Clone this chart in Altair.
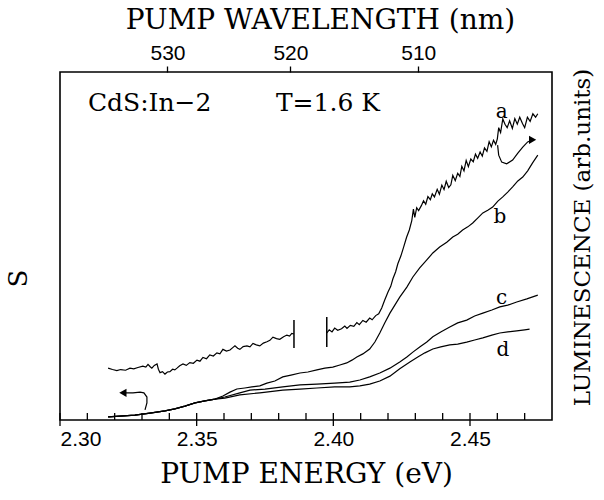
import altair as alt
import pandas as pd

# ---------------- data (energy in eV, signal in arb. units 0-100) ----------------
a1_E = [2.3176, 2.3192, 2.3208, 2.3222, 2.3240, 2.3256, 2.3270, 2.3285, 2.3303, 2.3314,
        2.3322, 2.3330, 2.3336, 2.3345, 2.3355, 2.3360, 2.3366, 2.3375, 2.3384, 2.3393,
        2.3402, 2.3412, 2.3420, 2.3428, 2.3438, 2.3450, 2.3462, 2.3475, 2.3488, 2.3501,
        2.3512, 2.3523, 2.3536, 2.3548, 2.3561, 2.3574, 2.3585, 2.3596, 2.3609, 2.3622,
        2.3632, 2.3640, 2.3650, 2.3658, 2.3670, 2.3684, 2.3695, 2.3706, 2.3718, 2.3731,
        2.3744, 2.3757, 2.3768, 2.3779, 2.3792, 2.3804, 2.3818, 2.3830, 2.3840, 2.3848,
        2.3856]
a1_S = [14.9, 14.5, 14.2, 14.5, 14.3, 14.9, 14.7, 15.1, 15.5, 15.2,
        16.0, 15.3, 14.9, 15.7, 16.1, 14.6, 13.6, 13.9, 13.2, 13.8,
        13.9, 14.6, 14.4, 14.9, 15.6, 16.1, 15.7, 16.5, 16.3, 17.2,
        16.9, 18.0, 17.6, 18.7, 18.4, 19.3, 19.0, 20.3, 19.8, 20.1,
        20.8, 21.3, 20.6, 20.3, 21.1, 21.3, 21.0, 22.0, 21.6, 21.3,
        22.1, 22.5, 22.9, 23.8, 23.4, 23.2, 23.9, 24.4, 24.1, 24.9,
        24.7]

a2_E = [2.3976, 2.3985, 2.3995, 2.4005, 2.4016, 2.4030, 2.4042, 2.4050, 2.4062, 2.4075,
        2.4086, 2.4095, 2.4108, 2.4120, 2.4133, 2.4142, 2.4155, 2.4166, 2.4177, 2.4188,
        2.4200, 2.4210, 2.4218, 2.4228, 2.4236, 2.4247, 2.4258, 2.4268, 2.4278, 2.4287,
        2.4293, 2.4298, 2.4305, 2.4312, 2.4322, 2.4330, 2.4338, 2.4346, 2.4355, 2.4362,
        2.4370, 2.4380, 2.4388, 2.4397, 2.4405, 2.4413, 2.4422, 2.4430, 2.4437, 2.4446,
        2.4455, 2.4463, 2.4470, 2.4478, 2.4486, 2.4494, 2.4503, 2.4512, 2.4520, 2.4528,
        2.4537, 2.4545, 2.4553, 2.4562, 2.4570, 2.4578, 2.4586, 2.4594, 2.4600, 2.4605,
        2.4612, 2.4620, 2.4628, 2.4636, 2.4645, 2.4655, 2.4664, 2.4673, 2.4682, 2.4692,
        2.4700, 2.4710, 2.4720, 2.4730, 2.4740, 2.4748]
a2_S = [25.0, 25.9, 25.3, 26.4, 25.8, 26.2, 27.0, 26.3, 27.2, 26.9,
        28.0, 27.4, 28.6, 28.1, 29.3, 28.8, 30.0, 30.5, 32.2, 34.5,
        36.8, 38.4, 40.6, 42.6, 44.9, 47.1, 49.9, 52.5, 54.6, 57.3,
        60.6, 58.2, 61.0, 60.2, 61.6, 63.0, 62.0, 64.2, 63.3, 65.0,
        64.1, 66.3, 64.9, 67.5, 66.2, 68.6, 66.8, 67.6, 70.3, 68.8,
        70.9, 70.0, 72.9, 71.6, 74.6, 72.8, 75.0, 74.2, 76.4, 75.2,
        77.0, 75.8, 78.2, 77.2, 80.0, 78.5, 80.4, 79.2, 80.8, 84.0,
        82.6, 86.5, 85.0, 84.0, 86.0, 83.8, 86.6, 85.0, 87.0, 85.2,
        84.0, 87.0, 85.8, 88.0, 87.0, 88.0]

base_E = [2.3176, 2.3219, 2.3274, 2.3329, 2.3384, 2.3420, 2.3457, 2.3494, 2.3530, 2.3567]
base_S = [0.9, 1.1, 1.4, 2.0, 2.6, 3.2, 4.0, 4.9, 5.5, 6.0]

b_E = [2.3596, 2.3622, 2.3647, 2.3676, 2.3702, 2.3731, 2.3757, 2.3786, 2.3815, 2.3845,
       2.3878, 2.3907, 2.3940, 2.3969, 2.3998, 2.4024, 2.4049, 2.4068, 2.4086, 2.4108,
       2.4133, 2.4152, 2.4170, 2.4188, 2.4207, 2.4225, 2.4243, 2.4269, 2.4291, 2.4316,
       2.4342, 2.4364, 2.4389, 2.4415, 2.4437, 2.4455, 2.4473, 2.4492, 2.4510, 2.4528,
       2.4547, 2.4565, 2.4583, 2.4602, 2.4620, 2.4638, 2.4656, 2.4675, 2.4693, 2.4711,
       2.4729, 2.4748]
b_S = [6.9, 8.0, 8.9, 9.2, 9.5, 9.8, 10.6, 11.2, 12.4, 12.9,
       13.5, 13.8, 14.4, 14.9, 15.2, 15.8, 16.4, 17.2, 18.1, 19.0,
       20.4, 22.4, 25.0, 27.9, 30.7, 33.0, 35.3, 38.2, 41.1, 43.7,
       46.0, 48.0, 49.7, 51.1, 52.6, 53.4, 54.6, 55.5, 56.6, 58.0,
       59.5, 60.3, 61.2, 62.9, 64.1, 65.5, 67.0, 68.7, 69.8, 71.6,
       73.9, 76.1]

c_E = [2.3603, 2.3658, 2.3695, 2.3750, 2.3815, 2.3878, 2.3940, 2.4005, 2.4060, 2.4097,
       2.4133, 2.4170, 2.4207, 2.4243, 2.4269, 2.4291, 2.4316, 2.4342, 2.4364, 2.4393,
       2.4426, 2.4455, 2.4488, 2.4517, 2.4547, 2.4580, 2.4609, 2.4638, 2.4671, 2.4708,
       2.4748]
c_S = [6.6, 7.8, 8.6, 8.9, 9.5, 10.1, 10.3, 10.6, 10.9, 11.5,
       12.4, 13.5, 14.9, 16.7, 18.1, 19.5, 21.0, 22.4, 23.9, 25.3,
       26.7, 27.9, 28.7, 29.9, 30.7, 31.6, 32.5, 33.0, 33.9, 34.8,
       35.9]

d_E = [2.3603, 2.3658, 2.3731, 2.3815, 2.3878, 2.3940, 2.4005, 2.4060, 2.4097, 2.4133,
       2.4170, 2.4207, 2.4243, 2.4280, 2.4309, 2.4335, 2.4364, 2.4393, 2.4426, 2.4455,
       2.4488, 2.4517, 2.4547, 2.4580, 2.4609, 2.4638, 2.4671, 2.4700, 2.4718]
d_S = [6.3, 7.2, 7.8, 8.6, 8.9, 9.2, 9.5, 9.5, 9.8, 10.3,
       11.2, 12.6, 14.7, 16.7, 18.1, 19.3, 20.4, 21.0, 21.6, 21.8,
       22.4, 23.0, 23.6, 24.4, 25.0, 25.3, 25.6, 25.9, 26.1]

# break markers on curve a
bar_E = [2.3856, 2.3976]
bar_lo = [20.7, 21.0]
bar_hi = [28.7, 29.6]

# curve labels
lab_text = ["a", "b", "c", "d"]
lab_E = [2.4616, 2.4609, 2.4616, 2.4620]
lab_S = [88.5, 58.3, 35.1, 20.1]

# annotation text
note_text = ["CdS:In\u22122", "T=1.6 K"]
note_E = [2.3102, 2.3790]
note_S = [91.0, 91.0]

# axis-assignment arrows
arrR_E = [2.4601, 2.4605, 2.4616, 2.4634, 2.4656, 2.4675, 2.4693, 2.4711, 2.4725]
arrR_S = [79.0, 76.1, 74.1, 73.6, 74.7, 76.7, 78.4, 79.9, 80.4]
arrL_E = [2.3311, 2.3318, 2.3318, 2.3307, 2.3293, 2.3267, 2.3236]
arrL_S = [2.9, 4.9, 6.6, 7.8, 8.0, 7.8, 7.8]
head_E = [2.4729, 2.3230]
head_S = [80.5, 7.8]
head_shape = ["triangle-right", "triangle-left"]

# axes
major_E = [2.30, 2.35, 2.40, 2.45]
minor_E = [2.31, 2.32, 2.33, 2.34, 2.36, 2.37, 2.38, 2.39, 2.41, 2.42, 2.43, 2.44, 2.46, 2.47]
wl_ticks = [530, 520, 510]
HC = 1239.84

# ---------------- tables ----------------
def seg(name, xs, ys):
    return pd.DataFrame({"E": xs, "S": ys, "curve": name, "i": range(len(xs))})

curves = pd.concat([
    seg("a1", a1_E, a1_S),
    seg("a2", a2_E, a2_S),
    seg("b", base_E + b_E, base_S + b_S),
    seg("c", base_E + c_E, base_S + c_S),
    seg("d", base_E + d_E, base_S + d_S),
    seg("arrR", arrR_E, arrR_S),
    seg("arrL", arrL_E, arrL_S),
])
bars = pd.DataFrame({"E": bar_E, "lo": bar_lo, "hi": bar_hi})
labs = pd.DataFrame({"E": lab_E, "S": lab_S, "t": lab_text})
notes = pd.DataFrame({"E": note_E, "S": note_S, "t": note_text})
heads = pd.DataFrame({"E": head_E, "S": head_S, "shape": head_shape})
minors = pd.DataFrame({"E": minor_E})
majors = pd.DataFrame({"E": major_E})
wl = pd.DataFrame({"E": [HC / w for w in wl_ticks]})

xs = alt.Scale(domain=[2.30, 2.48], nice=False, zero=False)
ys = alt.Scale(domain=[0, 100], nice=False, zero=False)
SERIF = "DejaVu Serif"
SANS = "Liberation Sans"

lines = alt.Chart(curves).mark_line(color="black", strokeWidth=1.2).encode(
    x=alt.X("E:Q", scale=xs, axis=alt.Axis(
        orient="bottom", values=major_E, format=".2f", title="PUMP ENERGY (eV)",
        ticks=False, domain=False, grid=False, labelFont=SANS, labelFontSize=21,
        labelColor="black", labelPadding=8, titleFont=SERIF,
        titleFontSize=28, titleFontWeight="normal", titleColor="black", titlePadding=11)),
    y=alt.Y("S:Q", scale=ys, axis=alt.Axis(
        orient="left", title="S", labels=False, ticks=False, domain=False, grid=False,
        titleFont=SERIF, titleFontSize=26, titleFontWeight="normal", titleColor="black",
        titlePadding=29, titleY=206)),
    detail="curve:N",
    order="i:Q",
)

top_axis = alt.Chart(wl).mark_point(opacity=0).encode(
    x=alt.X("E:Q", scale=xs, axis=alt.Axis(
        orient="top", values=[HC / w for w in wl_ticks],
        labelExpr="format(1239.84/datum.value, '.0f')", title="PUMP WAVELENGTH (nm)",
        ticks=True, tickSize=6, tickColor="black", tickWidth=1.3, domain=False, grid=False,
        labelFont=SANS, labelFontSize=21, labelColor="black", labelPadding=3,
        titleFont=SERIF, titleFontSize=28, titleFontWeight="normal", titleColor="black",
        titlePadding=8, titleX=260)),
    y=alt.Y("E:Q", scale=ys, axis=alt.Axis(
        orient="right", title="LUMINESCENCE (arb.units)", labels=False, ticks=False,
        domain=False, grid=False, titleFont=SERIF, titleFontSize=23,
        titleFontWeight="normal", titleColor="black", titleAngle=270, titlePadding=42,
        titleY=165)),
)

bar_rules = alt.Chart(bars).mark_rule(color="black", strokeWidth=1.5).encode(
    x=alt.X("E:Q", scale=xs, axis=None),
    y=alt.Y("lo:Q", scale=ys, axis=None),
    y2="hi:Q",
)

minor_ticks = alt.Chart(minors).mark_rule(color="black", strokeWidth=1.3).encode(
    x=alt.X("E:Q", scale=xs, axis=None),
    y=alt.value(348), y2=alt.value(341),
)
major_ticks = alt.Chart(majors).mark_rule(color="black", strokeWidth=1.3).encode(
    x=alt.X("E:Q", scale=xs, axis=None),
    y=alt.value(354), y2=alt.value(341),
)

labels = alt.Chart(labs).mark_text(font=SERIF, fontSize=20, color="black",
                                   align="center", baseline="middle").encode(
    x=alt.X("E:Q", scale=xs, axis=None),
    y=alt.Y("S:Q", scale=ys, axis=None),
    text="t:N",
)
note = alt.Chart(notes).mark_text(font=SERIF, fontSize=25, color="black",
                                  align="left", baseline="middle").encode(
    x=alt.X("E:Q", scale=xs, axis=None),
    y=alt.Y("S:Q", scale=ys, axis=None),
    text="t:N",
)
arrowheads = alt.Chart(heads).mark_point(filled=True, color="black", size=70, opacity=1).encode(
    x=alt.X("E:Q", scale=xs, axis=None),
    y=alt.Y("S:Q", scale=ys, axis=None),
    shape=alt.Shape("shape:N", scale=None, legend=None),
)

chart = alt.layer(
    lines, top_axis, bar_rules, minor_ticks, major_ticks, labels, note, arrowheads
).resolve_axis(x="independent", y="independent").properties(
    width=492, height=348,
    autosize=alt.AutoSizeParams(type="none"),
    padding={"left": 60, "top": 72, "right": 52, "bottom": 80},
    background="white",
).configure_view(stroke="black", strokeWidth=1.6)

chart.save("out.html", embed_options={"renderer": "svg", "actions": False})
